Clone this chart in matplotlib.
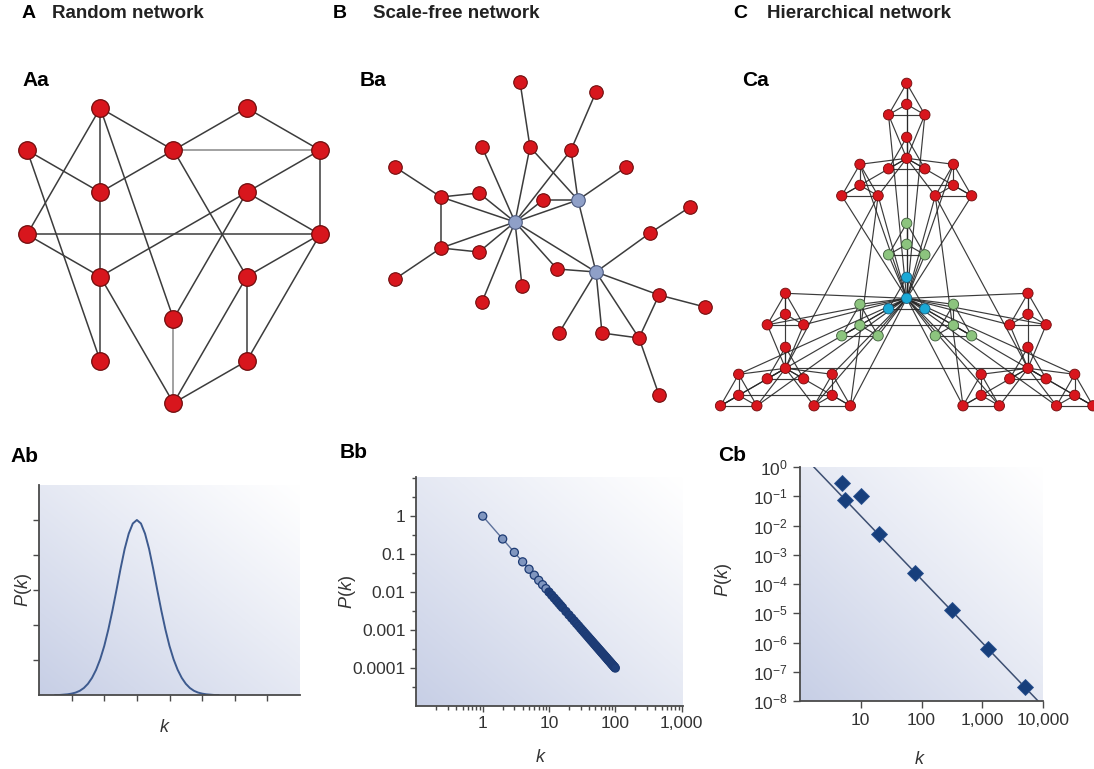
import numpy as np
import matplotlib.pyplot as plt
from matplotlib.ticker import FixedLocator, FixedFormatter, NullFormatter, NullLocator

plt.rcParams['font.family'] = ['Liberation Sans', 'DejaVu Sans']
plt.rcParams['mathtext.fontset'] = 'custom'
plt.rcParams['mathtext.rm'] = 'Liberation Sans'
plt.rcParams['mathtext.it'] = 'Liberation Sans:italic'

# ---- A: random network (grid column / row layout) ----
rand_col = [1, 3, 0, 2, 4, 1, 3, 0, 4, 1, 3, 2, 1, 3, 2]
rand_row = [0, 0, 1, 1, 1, 2, 2, 3, 3, 4, 4, 5, 6, 6, 7]
rand_edges = [(0, 7), (0, 5), (0, 3), (0, 11), (1, 3), (1, 4), (2, 5), (2, 12),
              (3, 5), (3, 10), (4, 6), (4, 8), (5, 9), (6, 8), (6, 9),
              (6, 11), (7, 8), (7, 9), (8, 10), (8, 13), (9, 12), (9, 14),
              (10, 13), (10, 14), (13, 14)]
rand_edges_light = [(3, 4), (11, 14)]

# ---- B: scale-free network (three hubs first) ----
sf_x = [135, 198, 216, 140, 216, 102, 150, 191, 15, 246, 61, 99, 163, 310,
        270, 61, 99, 15, 177, 142, 102, 279, 325, 179, 222, 259, 279]
sf_y = [152, 130, 202, 12, 22, 77, 77, 80, 97, 97, 127, 123, 130, 137,
        163, 178, 182, 209, 199, 216, 232, 225, 237, 263, 263, 268, 325]
sf_hubs = [0, 1, 2]
sf_edges = [(3, 6), (4, 7), (5, 0), (6, 0), (6, 1), (7, 0), (7, 1), (8, 10),
            (9, 1), (10, 11), (10, 0), (10, 15), (11, 0), (12, 0), (12, 1),
            (0, 1), (13, 14), (14, 2), (15, 0), (15, 16), (15, 17), (16, 0),
            (18, 0), (18, 2), (19, 0), (20, 0), (0, 2), (1, 2), (21, 2),
            (21, 22), (21, 25), (23, 2), (24, 2), (24, 25), (25, 2), (25, 26)]

# ---- Ab: Poisson-like degree distribution ----
k_rand = [0.5, 0.625, 0.75, 0.875, 1.0, 1.125, 1.25, 1.375, 1.5, 1.625, 1.75,
          1.875, 2.0, 2.125, 2.25, 2.375, 2.5, 2.625, 2.75, 2.875, 3.0,
          3.125, 3.25, 3.375, 3.5, 3.625, 3.75, 3.875, 4.0, 4.125, 4.25,
          4.375, 4.5, 4.625, 4.75, 4.875, 5.0, 5.125, 5.25, 5.375, 5.5]
p_rand = [0.0, 0.0, 0.01, 0.02, 0.04, 0.07, 0.12, 0.20, 0.32, 0.49, 0.72,
          1.02, 1.40, 1.87, 2.41, 3.00, 3.61, 4.17, 4.61, 4.90, 5.00,
          4.90, 4.61, 4.17, 3.61, 3.00, 2.41, 1.87, 1.40, 1.02, 0.72,
          0.49, 0.32, 0.20, 0.12, 0.07, 0.04, 0.02, 0.01, 0.0, 0.0]

# ---- Bb: power-law degree distribution ----
k_sf = [1, 2, 3, 4, 5, 6, 7, 8, 9, 10, 11, 12, 13, 14, 15, 16, 18, 20, 22,
        24, 26, 28, 30, 32, 34, 36, 38, 40, 42, 44, 46, 48, 50, 52, 54, 56,
        58, 60, 62, 64, 66, 68, 70, 72, 74, 76, 78, 80, 82, 84, 86, 88, 90,
        92, 94, 96, 98, 100]
p_sf = [1, 0.25, 0.111, 0.0625, 0.04, 0.0278, 0.0204, 0.0156, 0.0123, 0.01,
        0.00826, 0.00694, 0.00592, 0.0051, 0.00444, 0.00391, 0.00309, 0.0025,
        0.00207, 0.00174, 0.00148, 0.00128, 0.00111, 0.000977, 0.000865,
        0.000772, 0.000693, 0.000625, 0.000567, 0.000517, 0.000473, 0.000434,
        0.0004, 0.00037, 0.000343, 0.000319, 0.000297, 0.000278, 0.00026,
        0.000244, 0.00023, 0.000216, 0.000204, 0.000193, 0.000183, 0.000173,
        0.000164, 0.000156, 0.000149, 0.000142, 0.000135, 0.000129, 0.000123,
        0.000118, 0.000113, 0.000109, 0.000104, 0.0001]
sf_xticks = [1, 10, 100, 1000]
sf_xlabels = ['1', '10', '100', '1,000']
sf_yticks = [1, 0.1, 0.01, 0.001, 0.0001]
sf_ylabels = ['1', '0.1', '0.01', '0.001', '0.0001']

# ---- Cb: hierarchical degree distribution and fitted line ----
k_hier = [4.85, 5.5, 10, 19.6, 79, 315, 1260, 5000]
p_hier = [0.28, 0.075, 0.1, 0.005, 2.4e-4, 1.3e-5, 6e-7, 3e-8]
k_fit = [1.69, 8300]
p_fit = [1.0, 1e-8]
hier_xticks = [10, 100, 1000, 10000]
hier_xlabels = ['10', '100', '1,000', '10,000']
hier_yexp = [0, -1, -2, -3, -4, -5, -6, -7, -8]

RED, RED_EDGE = '#d8161d', '#6e0d0d'
EDGE = '#3c3c3c'

W, H = 1094, 769
fig = plt.figure(figsize=(W / 100, H / 100), dpi=100)


def px_axes(left, top, right, bottom, **kw):
    return fig.add_axes([left / W, 1 - bottom / H, (right - left) / W,
                         (bottom - top) / H], **kw)


def px_text(x, y, s, **kw):
    fig.text(x / W, 1 - y / H, s, **kw)


def draw_edges(ax, xs, ys, edges, **kw):
    for a, b in edges:
        ax.plot([xs[a], xs[b]], [ys[a], ys[b]], solid_capstyle='round', zorder=1, **kw)


# A: random network
ax = px_axes(0, 88, 350, 425)
ax.set_xlim(-0.369, 4.41)
ax.set_ylim(7.52, -0.475)
ax.axis('off')
draw_edges(ax, rand_col, rand_row, rand_edges, color=EDGE, lw=1.1)
draw_edges(ax, rand_col, rand_row, rand_edges_light, color='#9a9a9a', lw=1.3)
ax.scatter(rand_col, rand_row, s=160, c=RED, edgecolors=RED_EDGE, linewidths=0.9, zorder=3)

# B: scale-free network
ax = px_axes(380, 70, 730, 420)
ax.set_xlim(0, 350)
ax.set_ylim(350, 0)
ax.axis('off')
draw_edges(ax, sf_x, sf_y, sf_edges, color=EDGE, lw=1.1)
is_hub = np.isin(np.arange(len(sf_x)), sf_hubs)
ax.scatter(np.array(sf_x)[~is_hub], np.array(sf_y)[~is_hub], s=95, c=RED,
           edgecolors=RED_EDGE, linewidths=0.8, zorder=3)
ax.scatter(np.array(sf_x)[is_hub], np.array(sf_y)[is_hub], s=95, c='#8fa0c8',
           edgecolors='#4d5b80', linewidths=0.8, zorder=3)

# C: hierarchical network, three levels of 4-node modules
corner = np.array([[0.0, 0.0], [0.0, 1.0], [-np.sqrt(3) / 2, -0.5], [np.sqrt(3) / 2, -0.5]])
r1, r2, r3 = 21, 54, 140
hx, hy, hcol, hedge = [], [], [], []
for c in range(4):
    for m in range(4):
        for n in range(4):
            p = r3 * corner[c] + r2 * corner[m] + r1 * corner[n]
            hx.append(p[0])
            hy.append(p[1])
            if c > 0:
                hcol.append(RED)
                hedge.append(RED_EDGE)
            elif m == 0:
                hcol.append('#1aa9d6')
                hedge.append('#1a5a78')
            else:
                hcol.append('#8cc47e')
                hedge.append('#3d5a3a')


def idx(c, m, n):
    return 16 * c + 4 * m + n


hier_edges = []
for c in range(4):
    for m in range(4):
        for a in range(4):
            for b in range(a + 1, 4):
                hier_edges.append((idx(c, m, a), idx(c, m, b)))
    for m in range(1, 4):
        for n in range(1, 4):
            hier_edges.append((idx(c, m, n), idx(c, 0, 0)))
    hier_edges.append((idx(c, 2, 0), idx(c, 3, 0)))
for c in range(1, 4):
    for m in range(1, 4):
        for n in range(1, 4):
            hier_edges.append((idx(c, m, n), 0))
hier_edges += [(idx(2, 0, 0), idx(3, 0, 0)),
               (idx(1, 2, 3), idx(2, 0, 0)), (idx(1, 2, 3), idx(2, 3, 3)),
               (idx(1, 3, 2), idx(3, 0, 0)), (idx(1, 3, 2), idx(3, 2, 2))]

ax = px_axes(706.7, 73.3, 1106.7, 423.3)
ax.set_xlim(-200, 200)
ax.set_ylim(-125, 225)
ax.axis('off')
draw_edges(ax, hx, hy, hier_edges, color='#262626', lw=0.85, alpha=0.9)
ax.scatter(hx, hy, s=55, c=hcol, edgecolors=hedge, linewidths=0.6, zorder=3)


def shaded_axes(left, top, right, bottom):
    bg = px_axes(left, top, right, bottom)
    xx, yy = np.meshgrid(np.linspace(0, 1, 200), np.linspace(0, 1, 200))
    w = np.clip(1.0 - 0.5 * (xx + yy), 0, 1) ** 1.1
    base = np.array([0.78, 0.81, 0.90])
    bg.imshow(1 - w[..., None] * (1 - base), origin='lower', extent=(0, 1, 0, 1),
              aspect='auto', interpolation='bilinear')
    bg.axis('off')
    ax = px_axes(left, top, right, bottom)
    ax.set_facecolor('none')
    for side in ('top', 'right'):
        ax.spines[side].set_visible(False)
    for side in ('left', 'bottom'):
        ax.spines[side].set_color('#4a4a4a')
        ax.spines[side].set_linewidth(1.3)
    ax.tick_params(which='both', direction='out', color='#4a4a4a', labelcolor='#333333',
                   labelsize=12.5, width=1.0)
    ax.tick_params(which='major', length=4)
    ax.tick_params(which='minor', length=2.5)
    return ax


# Ab
ax = shaded_axes(39, 485, 300, 695)
ax.plot(k_rand, p_rand, color='#3d5a8e', lw=1.4)
ax.set_xlim(0, 8)
ax.set_ylim(0, 6)
ax.set_xticks(range(1, 8))
ax.set_yticks(range(1, 6))
ax.set_xticklabels([])
ax.set_yticklabels([])

# Bb: sparse low-degree points are light, the crowded tail reads as a dark band
ax = shaded_axes(416, 477, 683, 706)
ax.set_xscale('log')
ax.set_yscale('log')
ax.plot(k_sf, p_sf, '-', color='#5d719b', lw=1.0)
face = np.where(np.array(k_sf) < 10, '#8096bf', '#1f3f7a')
ax.scatter(k_sf, p_sf, s=34, c=face, edgecolors='#1d3b74', linewidths=0.9, zorder=3)
ax.set_xlim(0.0986, 1050)
ax.set_ylim(1e-5, 10 ** 1.03)
ax.xaxis.set_major_locator(FixedLocator(sf_xticks))
ax.xaxis.set_major_formatter(FixedFormatter(sf_xlabels))
ax.xaxis.set_minor_locator(FixedLocator([s * 10.0 ** e for e in range(-1, 3) for s in range(2, 10)]))
ax.xaxis.set_minor_formatter(NullFormatter())
ax.yaxis.set_major_locator(FixedLocator(sf_yticks))
ax.yaxis.set_major_formatter(FixedFormatter(sf_ylabels))
ax.yaxis.set_minor_locator(FixedLocator([10.0 ** (e + 0.5) for e in range(-5, 1)] + [10.0]))
ax.yaxis.set_minor_formatter(NullFormatter())
ax.tick_params(which='minor', length=3)

# Cb
ax = shaded_axes(800, 467, 1043, 701)
ax.set_xscale('log')
ax.set_yscale('log')
ax.plot(k_fit, p_fit, color='#3d4f72', lw=1.1)
ax.plot(k_hier, p_hier, 'D', ms=8.5, color='#173f7c', mec='#2b5290', mew=0.6)
ax.set_xlim(1, 1e4)
ax.set_ylim(1e-8, 1)
ax.xaxis.set_major_locator(FixedLocator(hier_xticks))
ax.xaxis.set_major_formatter(FixedFormatter(hier_xlabels))
ax.xaxis.set_minor_locator(NullLocator())
ax.yaxis.set_major_locator(FixedLocator([10.0 ** e for e in hier_yexp]))
ax.yaxis.set_major_formatter(FixedFormatter(['$10^{%d}$' % e for e in hier_yexp]))
ax.yaxis.set_minor_locator(NullLocator())
ax.tick_params(which='major', length=5)

# axis labels
ylab = '$P$($k$)'
px_text(23, 590, ylab, rotation=90, ha='center', va='center', fontsize=13, color='#333333')
px_text(165, 728, '$k$', ha='center', va='center', fontsize=13, color='#333333')
px_text(347, 592, ylab, rotation=90, ha='center', va='center', fontsize=13, color='#333333')
px_text(541, 758, '$k$', ha='center', va='center', fontsize=13, color='#333333')
px_text(723, 580, ylab, rotation=90, ha='center', va='center', fontsize=13, color='#333333')
px_text(920, 760, '$k$', ha='center', va='center', fontsize=13, color='#333333')

# panel headings
for x, letter, tx, title in [(22, 'A', 52, 'Random network'),
                             (333, 'B', 373, 'Scale-free network'),
                             (733, 'C', 767, 'Hierarchical network')]:
    px_text(x, 14, letter, fontsize=14, fontweight='bold', va='center')
    px_text(tx, 14, title, fontsize=13.5, fontweight='bold', va='center', color='#222222')

for x, y, s in [(22, 81, 'Aa'), (360, 80, 'Ba'), (742, 80, 'Ca'),
                (10, 456, 'Ab'), (340, 453, 'Bb'), (718, 455, 'Cb')]:
    px_text(x, y, s, fontsize=15, fontweight='bold', va='center')

fig.savefig('out.png', dpi=100)
